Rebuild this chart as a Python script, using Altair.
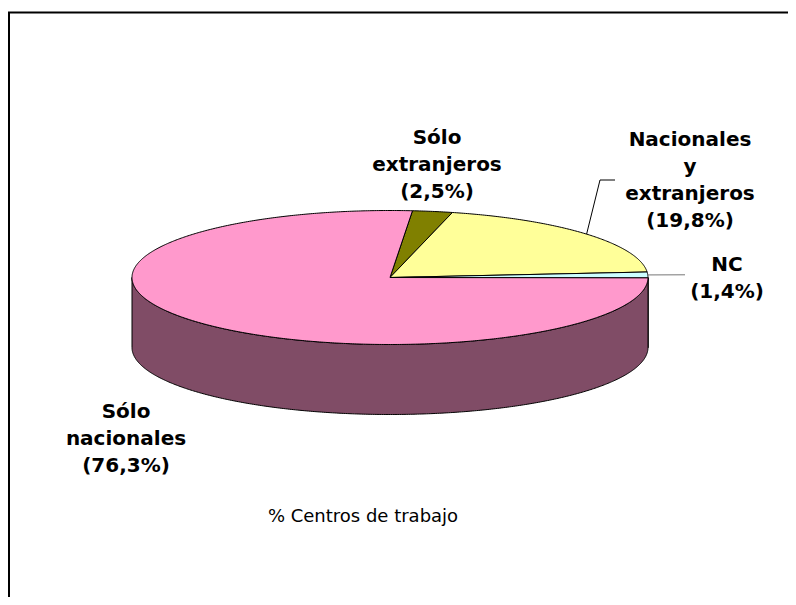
import math
import altair as alt
import pandas as pd

# ---------------- data ----------------
categories = ["Sólo extranjeros", "Nacionales y extranjeros", "NC", "Sólo nacionales"]
shares = [2.5, 19.8, 1.4, 76.3]
label_words = [["Sólo", "extranjeros"], ["Nacionales", "y", "extranjeros"], ["NC"], ["Sólo", "nacionales"]]
top_colors = ["#808000", "#FFFF99", "#CCFFFF", "#FF99CC"]
side_colors = ["#404000", "#808050", "#668080", "#804C66"]
title_text = "% Centros de trabajo"

# ---------------- layout (page pixels) ----------------
W, H = 780, 589
CX, CY, RX, RY, DEPTH = 390.0, 277.5, 258.0, 67.0, 70.0
START_DEG = 5.0
FONT = "DejaVu Sans"
LABEL_SIZE = 20
TITLE_SIZE = 18
LINE_H = 27
label_anchor = {
    "Sólo extranjeros": (437, 138),
    "Nacionales y extranjeros": (690, 140),
    "NC": (727, 265),
    "Sólo nacionales": (126, 412),
}
leader_elbows = {
    "Nacionales y extranjeros": [(600, 180), (615, 180)],
    "NC": [(685, 274.8)],
}
leader_colors = {"Nacionales y extranjeros": "#000000", "NC": "#777777"}
title_pos = (363, 517)


def pt(t_deg, dz=0.0):
    t = math.radians(t_deg)
    return CX + RX * math.sin(t), CY - RY * math.cos(t) + dz


def arc(a0, a1, dz=0.0):
    n = max(2, int(abs(a1 - a0) / 0.5) + 1)
    return [pt(a0 + (a1 - a0) * i / (n - 1), dz) for i in range(n)]


# slice angles
bounds = []
acc = START_DEG
for s in shares:
    a0 = acc
    a1 = acc + s * 3.6
    bounds.append((a0, a1))
    acc = a1

# top faces
top_rows = []
for cat, (a0, a1) in zip(categories, bounds):
    pts = [(CX, CY)] + arc(a0, a1)
    for i, (x, y) in enumerate(pts):
        top_rows.append({"slice": cat, "idx": i, "x": x, "y": y})
top_df = pd.DataFrame(top_rows)

# side faces (visible front half: 90..270 deg)
side_rows = []
for cat, (a0, a1) in zip(categories, bounds):
    for shift in (0, 360, -360):
        s0 = max(a0 + shift, 90.0)
        s1 = min(a1 + shift, 270.0)
        if s1 - s0 > 0.01:
            pts = arc(s0, s1) + arc(s1, s0, DEPTH)
            key = f"{cat}|{shift}"
            for i, (x, y) in enumerate(pts):
                side_rows.append({"slice": cat, "key": key, "idx": i, "x": x, "y": y})
side_df = pd.DataFrame(side_rows)

# leader lines: from mid-angle on rim to label elbow
lead_rows = []
for cat, (a0, a1) in zip(categories, bounds):
    if cat in leader_elbows:
        pts = [pt((a0 + a1) / 2)] + leader_elbows[cat]
        for i, (x, y) in enumerate(pts):
            lead_rows.append({"slice": cat, "idx": i, "x": x, "y": y})
lead_df = pd.DataFrame(lead_rows)

# labels
lab_rows = []
for cat, words, s in zip(categories, label_words, shares):
    lines = words + ["(" + f"{s:.1f}".replace(".", ",") + "%)"]
    ax, ay = label_anchor[cat]
    for i, ln in enumerate(lines):
        lab_rows.append({"text": ln, "x": ax, "y": ay + i * LINE_H})
lab_df = pd.DataFrame(lab_rows)

xs = alt.Scale(domain=[8, 8 + W], nice=False, zero=False)
ys = alt.Scale(domain=[8, 8 + H], nice=False, zero=False, reverse=True)
X = alt.X("x:Q", scale=xs, axis=None)
Y = alt.Y("y:Q", scale=ys, axis=None)

side = alt.Chart(side_df).mark_line(
    stroke="#000000", strokeWidth=1, interpolate="linear-closed"
).encode(
    x=X, y=Y, order="idx:Q", detail="key:N",
    fill=alt.Fill("slice:N", scale=alt.Scale(domain=categories, range=side_colors), legend=None),
)

top = alt.Chart(top_df).mark_line(
    stroke="#000000", strokeWidth=1, interpolate="linear-closed"
).encode(
    x=X, y=Y, order="idx:Q", detail="slice:N",
    fill=alt.Fill("slice:N", scale=alt.Scale(domain=categories, range=top_colors), legend=None),
)

leaders = alt.Chart(lead_df).mark_line(strokeWidth=1).encode(
    x=X, y=Y, order="idx:Q", detail="slice:N",
    stroke=alt.Stroke("slice:N", scale=alt.Scale(domain=list(leader_colors.keys()),
                                                 range=list(leader_colors.values())), legend=None),
)

labels = alt.Chart(lab_df).mark_text(
    font=FONT, fontSize=LABEL_SIZE, fontWeight="bold", color="#000000",
    align="center", baseline="middle",
).encode(x=X, y=Y, text="text:N")

title = alt.Chart(pd.DataFrame([{"text": title_text, "x": title_pos[0], "y": title_pos[1]}])).mark_text(
    font=FONT, fontSize=TITLE_SIZE, color="#000000", align="center", baseline="middle",
).encode(x=X, y=Y, text="text:N")

border_df = pd.DataFrame([
    {"x": 8, "x2": 8 + W, "y": 12.5, "y2": 12.5},
    {"x": 9, "x2": 9, "y": 12, "y2": 8 + H},
])
border = alt.Chart(border_df).mark_rule(color="#000000", strokeWidth=2).encode(
    x=X, x2="x2:Q", y=Y, y2="y2:Q"
)

chart = alt.layer(side, top, leaders, labels, title, border).properties(
    width=W, height=H, autosize=alt.AutoSizeParams(type="none"), padding=0,
).configure_view(stroke=None).resolve_scale(fill="independent")

chart.save("out.html", embed_options={"renderer": "svg", "actions": False})
